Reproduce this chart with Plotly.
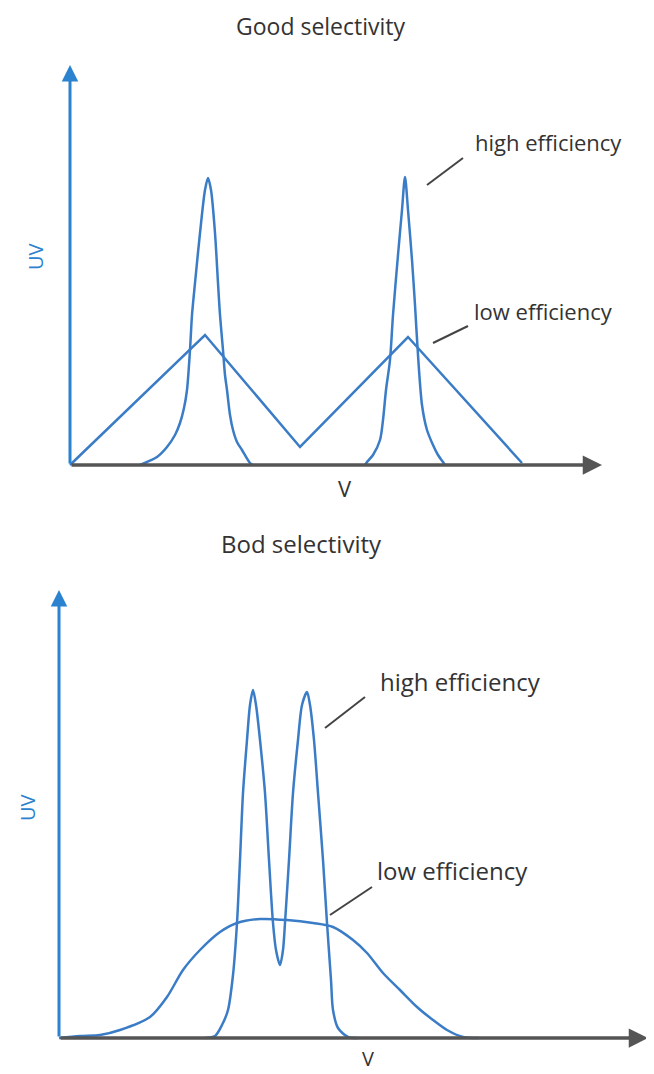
import plotly.graph_objects as go

# ---------------- data (arbitrary units: volume V vs UV signal) ----------------
# Top panel: "Good selectivity"
top_high1_x = [70, 77, 87, 97, 105, 110, 114, 117, 120, 122, 125, 130, 135, 138, 141, 145, 148, 150, 153, 155, 157, 160, 163, 167, 172, 180, 183]
top_high1_y = [0, 3, 8, 18, 30, 42, 57, 75, 115, 150, 182, 232, 275, 287, 275, 232, 182, 150, 115, 90, 75, 50, 35, 23, 15, 2, 0]
top_high2_x = [295, 297, 303, 310, 313, 316, 320, 323, 328, 332, 335, 338, 342, 345, 348, 352, 357, 363, 368, 373, 375]
top_high2_y = [0, 3, 10, 25, 45, 75, 105, 150, 210, 255, 288, 255, 205, 160, 110, 60, 35, 20, 10, 3, 0]
top_low_x = [0, 135, 230, 338, 452]
top_low_y = [0, 130, 18, 128, 2]

# Bottom panel: "Bod selectivity"
bot_high_x = [146, 156, 163, 169, 174, 178, 181, 184, 188, 191, 194, 197, 201, 206, 210, 214, 217, 221, 224, 226, 230, 234, 239, 243, 248, 251, 255, 259, 264, 268, 272, 274, 279, 289, 299]
bot_high_y = [0, 2, 13, 28, 63, 115, 178, 245, 298, 333, 348, 333, 298, 245, 178, 115, 88, 73, 88, 115, 178, 245, 298, 333, 346, 333, 298, 245, 178, 115, 58, 28, 10, 1, 0]
bot_low_x = [0, 21, 41, 61, 91, 108, 124, 141, 161, 178, 201, 228, 254, 274, 294, 308, 324, 341, 358, 374, 388, 404, 420]
bot_low_y = [0, 2, 3, 8, 21, 41, 68, 88, 106, 115, 119, 118, 115, 111, 98, 85, 65, 48, 31, 18, 8, 1, 0]

titles = ["Good selectivity", "Bod selectivity"]
series_labels = ["high efficiency", "low efficiency"]
x_label = "V"
y_label = "UV"

# ---------------- styling ----------------
CURVE = "#3a7cc6"
YAXIS = "#2b82cf"
XAXIS = "#555555"
TEXT = "#333333"
FONT = "Open Sans"
W, H = 646, 1066  # page body margin of 8px is compensated

fig = go.Figure()

def curve(x, y, xa, ya, shape):
    fig.add_trace(go.Scatter(
        x=x, y=y, xaxis=xa, yaxis=ya, mode="lines",
        line=dict(color=CURVE, width=2.5, shape=shape, smoothing=0.8 if shape == "spline" else None),
        hoverinfo="skip", showlegend=False))

curve(top_high1_x, top_high1_y, "x", "y", "spline")
curve(top_high2_x, top_high2_y, "x", "y", "spline")
curve(top_low_x, top_low_y, "x", "y", "linear")
curve(bot_low_x, bot_low_y, "x2", "y2", "spline")
curve(bot_high_x, bot_high_y, "x2", "y2", "spline")

hidden = dict(visible=False, showgrid=False, zeroline=False, fixedrange=True)
fig.update_layout(
    width=W, height=H,
    margin=dict(l=0, r=0, t=0, b=0),
    paper_bgcolor="white", plot_bgcolor="white",
    showlegend=False,
    xaxis=dict(hidden, domain=[0, 1], range=[-62, 584], anchor="y"),
    yaxis=dict(hidden, domain=[1 - 529 / H, 1], range=[-72, 457], anchor="x"),
    xaxis2=dict(hidden, domain=[0, 1], range=[-51, 595], anchor="y2"),
    yaxis2=dict(hidden, domain=[0, 1 - 533 / H], range=[-36, 497], anchor="x2"),
)

ann = []
shapes = []

def axes_arrows(xr, yr, xtip, ytip):
    # y axis (blue)
    ann.append(dict(xref=xr, yref=yr, axref=xr, ayref=yr, x=0, y=ytip, ax=0, ay=0,
                    showarrow=True, arrowhead=2, arrowsize=1.1, arrowwidth=3,
                    arrowcolor=YAXIS, text=""))
    # x axis (grey)
    ann.append(dict(xref=xr, yref=yr, axref=xr, ayref=yr, x=xtip, y=0, ax=0, ay=0,
                    showarrow=True, arrowhead=2, arrowsize=1.1, arrowwidth=3.5,
                    arrowcolor=XAXIS, text=""))

axes_arrows("x", "y", 532, 400)
axes_arrows("x2", "y2", 589, 448)

def text(xr, yr, x, y, s, size=18, color=TEXT, angle=0, xanchor="center", yanchor="middle"):
    ann.append(dict(xref=xr, yref=yr, x=x, y=y, text=s, showarrow=False,
                    textangle=angle, xanchor=xanchor, yanchor=yanchor,
                    font=dict(family=FONT, size=size, color=color)))

def leader(xr, yr, x0, y0, x1, y1):
    shapes.append(dict(type="line", xref=xr, yref=yr, x0=x0, y0=y0, x1=x1, y1=y1,
                       line=dict(color="#444444", width=2)))

# Top panel texts
text("paper", "paper", (321 - 8) / W, 1.0, titles[0], size=23, yanchor="top")
text("x", "y", 275, -23, x_label, size=22)
text("x", "y", -35, 208, y_label, size=20, color=YAXIS, angle=-90)
text("x", "y", 403, 323, series_labels[0], size=22, xanchor="left")
text("x", "y", 402, 154, series_labels[1], size=22, xanchor="left")
leader("x", "y", 357, 280, 393, 307)
leader("x", "y", 363, 122, 398, 139)

# Bottom panel texts
text("paper", "paper", (301 - 8) / W, 1 - (543 - 8) / H, titles[1], size=24)
text("paper", "paper", (368 - 8) / W, 0.0, x_label, size=20, yanchor="bottom")
text("x2", "y2", -32, 230, y_label, size=20, color=YAXIS, angle=-90)
text("x2", "y2", 319, 357, series_labels[0], size=24, xanchor="left")
text("x2", "y2", 316, 168, series_labels[1], size=24, xanchor="left")
leader("x2", "y2", 266, 310, 306, 341)
leader("x2", "y2", 271, 123, 313, 151)

fig.update_layout(annotations=ann, shapes=shapes)
fig.write_html("out.html")
